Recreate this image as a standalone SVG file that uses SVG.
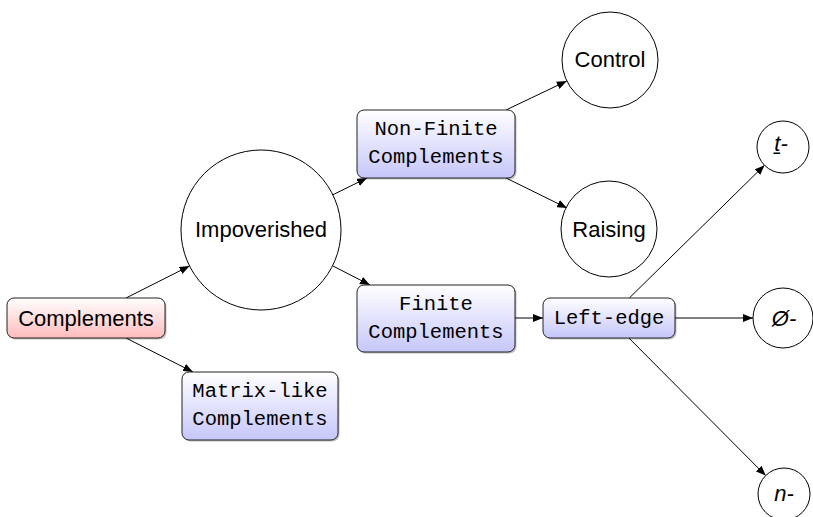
<svg xmlns="http://www.w3.org/2000/svg" width="813" height="517" viewBox="0 0 813 517">
<defs>
<linearGradient id="gBlue" x1="0" y1="0" x2="0" y2="1"><stop offset="0" stop-color="#ffffff"/><stop offset="1" stop-color="#c6c6fa"/></linearGradient>
<linearGradient id="gRed" x1="0" y1="0" x2="0" y2="1"><stop offset="0" stop-color="#ffffff"/><stop offset="1" stop-color="#ffbcbc"/></linearGradient>
<marker id="arr" viewBox="0 0 10 8" refX="10" refY="4" markerWidth="10" markerHeight="8" markerUnits="userSpaceOnUse" orient="auto"><path d="M0,0 L10,4 L0,8 Z" fill="#000"/></marker>
<style>
.box{stroke:#222;stroke-width:1}
.shadow{fill:#000;opacity:0.25}
.circ{fill:#fff;stroke:#000;stroke-width:1}
.sans{font-family:"Liberation Sans",Arial,sans-serif;font-size:22px;fill:#000;text-anchor:middle}
.ital{font-style:italic}
.mono{font-family:"Liberation Mono","Courier New",monospace;font-size:20.5px;fill:#000;text-anchor:middle}
.edge{stroke:#000;stroke-width:1;fill:none;marker-end:url(#arr)}
</style>
</defs>
<rect width="813" height="517" fill="#fff"/>
<g id="connectors">
<line class="edge" x1="126" y1="298" x2="189.5" y2="266"/>
<line class="edge" x1="126" y1="338" x2="193" y2="372"/>
<line class="edge" x1="333" y1="194.7" x2="367" y2="178"/>
<line class="edge" x1="333" y1="266" x2="370" y2="285"/>
<line class="edge" x1="506" y1="110" x2="566.8" y2="81"/>
<line class="edge" x1="506" y1="178" x2="567" y2="208"/>
<line class="edge" x1="515" y1="318" x2="543" y2="318"/>
<line class="edge" x1="629.3" y1="298" x2="764.5" y2="165.2"/>
<line class="edge" x1="675" y1="318" x2="753" y2="318"/>
<line class="edge" x1="628.9" y1="338" x2="765.7" y2="475.6"/>
</g>
<g id="complements">
<rect class="shadow" x="8.5" y="299.5" width="158" height="40" rx="7"/>
<rect class="box" x="7" y="298" width="158" height="40" rx="7" fill="url(#gRed)"/>
<text class="sans" x="86" y="326">Complements</text>
</g>
<g id="impoverished">
<circle class="circ" cx="261" cy="230" r="80"/>
<text class="sans" x="261" y="237">Impoverished</text>
</g>
<g id="matrix-like">
<rect class="shadow" x="183.5" y="373.5" width="156" height="68" rx="7"/>
<rect class="box" x="182" y="372" width="156" height="68" rx="7" fill="url(#gBlue)"/>
<text class="mono" x="260" y="397">Matrix-like</text>
<text class="mono" x="260" y="425">Complements</text>
</g>
<g id="non-finite">
<rect class="shadow" x="358.5" y="111.5" width="158" height="68" rx="7"/>
<rect class="box" x="357" y="110" width="158" height="68" rx="7" fill="url(#gBlue)"/>
<text class="mono" x="436" y="135">Non-Finite</text>
<text class="mono" x="436" y="163">Complements</text>
</g>
<g id="finite">
<rect class="shadow" x="358.5" y="286.5" width="158" height="67" rx="7"/>
<rect class="box" x="357" y="285" width="158" height="67" rx="7" fill="url(#gBlue)"/>
<text class="mono" x="436" y="310">Finite</text>
<text class="mono" x="436" y="338">Complements</text>
</g>
<g id="left-edge">
<rect class="shadow" x="544.5" y="299.5" width="132" height="40" rx="7"/>
<rect class="box" x="543" y="298" width="132" height="40" rx="7" fill="url(#gBlue)"/>
<text class="mono" x="609" y="324">Left-edge</text>
</g>
<g id="control">
<circle class="circ" cx="610" cy="60" r="48"/>
<text class="sans" x="610" y="67">Control</text>
</g>
<g id="raising">
<circle class="circ" cx="609" cy="229" r="48"/>
<text class="sans" x="609" y="237">Raising</text>
</g>
<g id="t-node">
<circle class="circ" cx="783" cy="147" r="26"/>
<text class="sans ital" x="781" y="151">ṯ-</text>
</g>
<g id="null-node">
<circle class="circ" cx="783" cy="318" r="30"/>
<text class="sans ital" x="784" y="326">Ø-</text>
</g>
<g id="n-node">
<circle class="circ" cx="784" cy="494" r="26"/>
<text class="sans ital" x="784" y="501">n-</text>
</g>
</svg>
